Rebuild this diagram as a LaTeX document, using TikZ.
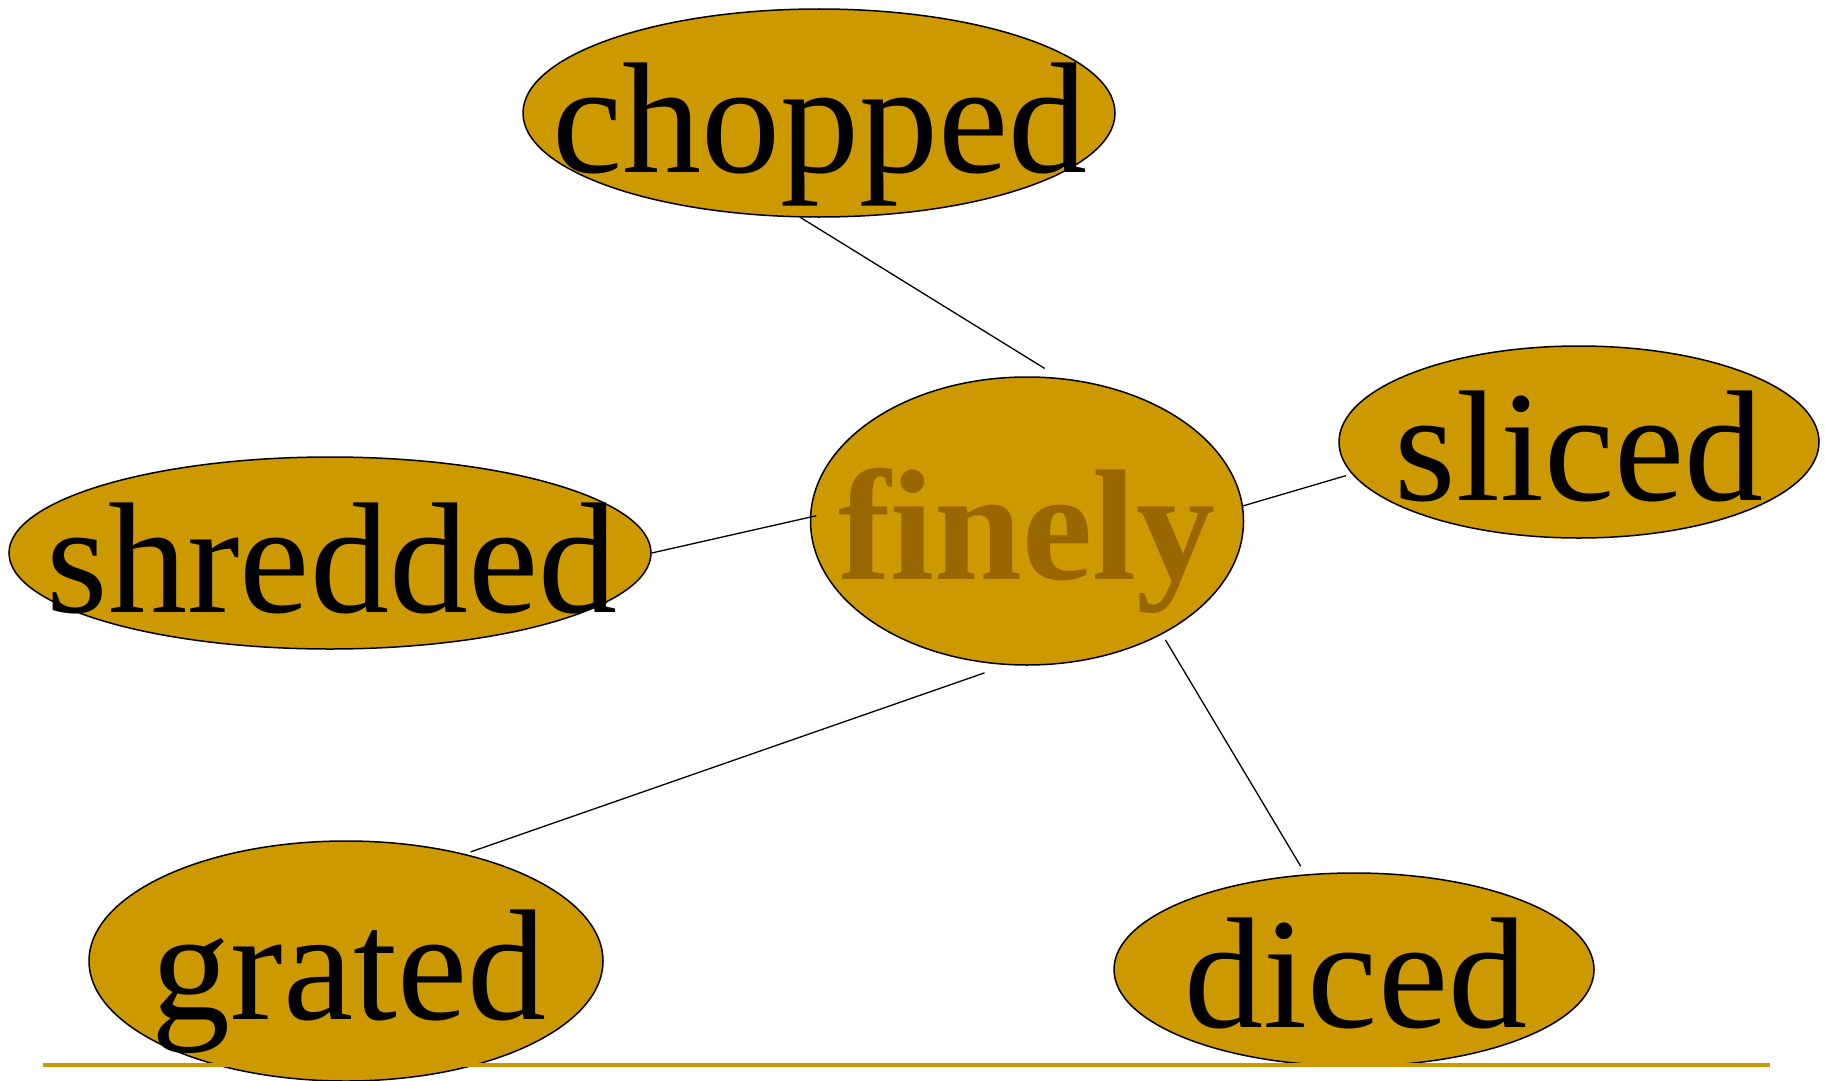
\documentclass[tikz,border=0pt]{standalone}
\usepackage{fontspec}
\setmainfont[Ligatures=NoCommon]{Liberation Serif}
\usetikzlibrary{shapes.geometric}
\definecolor{gold}{HTML}{CC9900}
\definecolor{brownish}{HTML}{996600}
\begin{document}
\begin{tikzpicture}[x=1pt,y=-1pt,
  oval/.style={ellipse,draw=black,line width=1.5pt,fill=gold,inner sep=0pt},
  word/.style={anchor=base,inner sep=0pt,font=\fontsize{158}{160}\selectfont},
  link/.style={line width=1.3pt,black}]
\useasboundingbox (0,0) rectangle (1825,1081);
% ovals
\node[oval,minimum width=592pt,minimum height=208pt] (chopped) at (819,113) {};
\node[oval,minimum width=433pt,minimum height=288pt] (finely) at (1027,521) {};
\node[oval,minimum width=480pt,minimum height=192pt] (sliced) at (1579,442) {};
\node[oval,minimum width=642pt,minimum height=192pt] (shredded) at (330,553) {};
\node[oval,minimum width=514pt,minimum height=240pt] (grated) at (346,961) {};
\node[oval,minimum width=480pt,minimum height=193pt] (diced) at (1354,969.5) {};
% words
\node[word] (tchopped) at (820,172.3) {chopped};
\node[word,text=brownish,font=\fontsize{158}{160}\selectfont\bfseries] (tfinely) at (1027,579.6) {finely};
\node[word] (tsliced) at (1579,500.5) {sliced};
\node[word] (tshredded) at (332,612) {shredded};
\node[word] (tgrated) at (349,1019.6) {grated};
\node[word] (tdiced) at (1356,1027.7) {diced};
% connectors
\draw[link,shorten >=18pt] (chopped.-100) -- (finely.77.7);
\draw[link,shorten >=6pt] (finely.4.5) -- (sliced.188);
\draw[link,shorten >=-6.6pt] (shredded.0.7) -- (finely.179.8);
\draw[link,shorten <=6pt,shorten >=23.5pt] (grated.42.6) -- (finely.-98.7);
\draw[link,shorten <=6.6pt,shorten >=9.3pt] (finely.-40.3) -- (diced.117.5);
% bottom rule
\draw[gold,line width=4pt] (43,1065) -- (1770,1065);
\end{tikzpicture}
\end{document}
